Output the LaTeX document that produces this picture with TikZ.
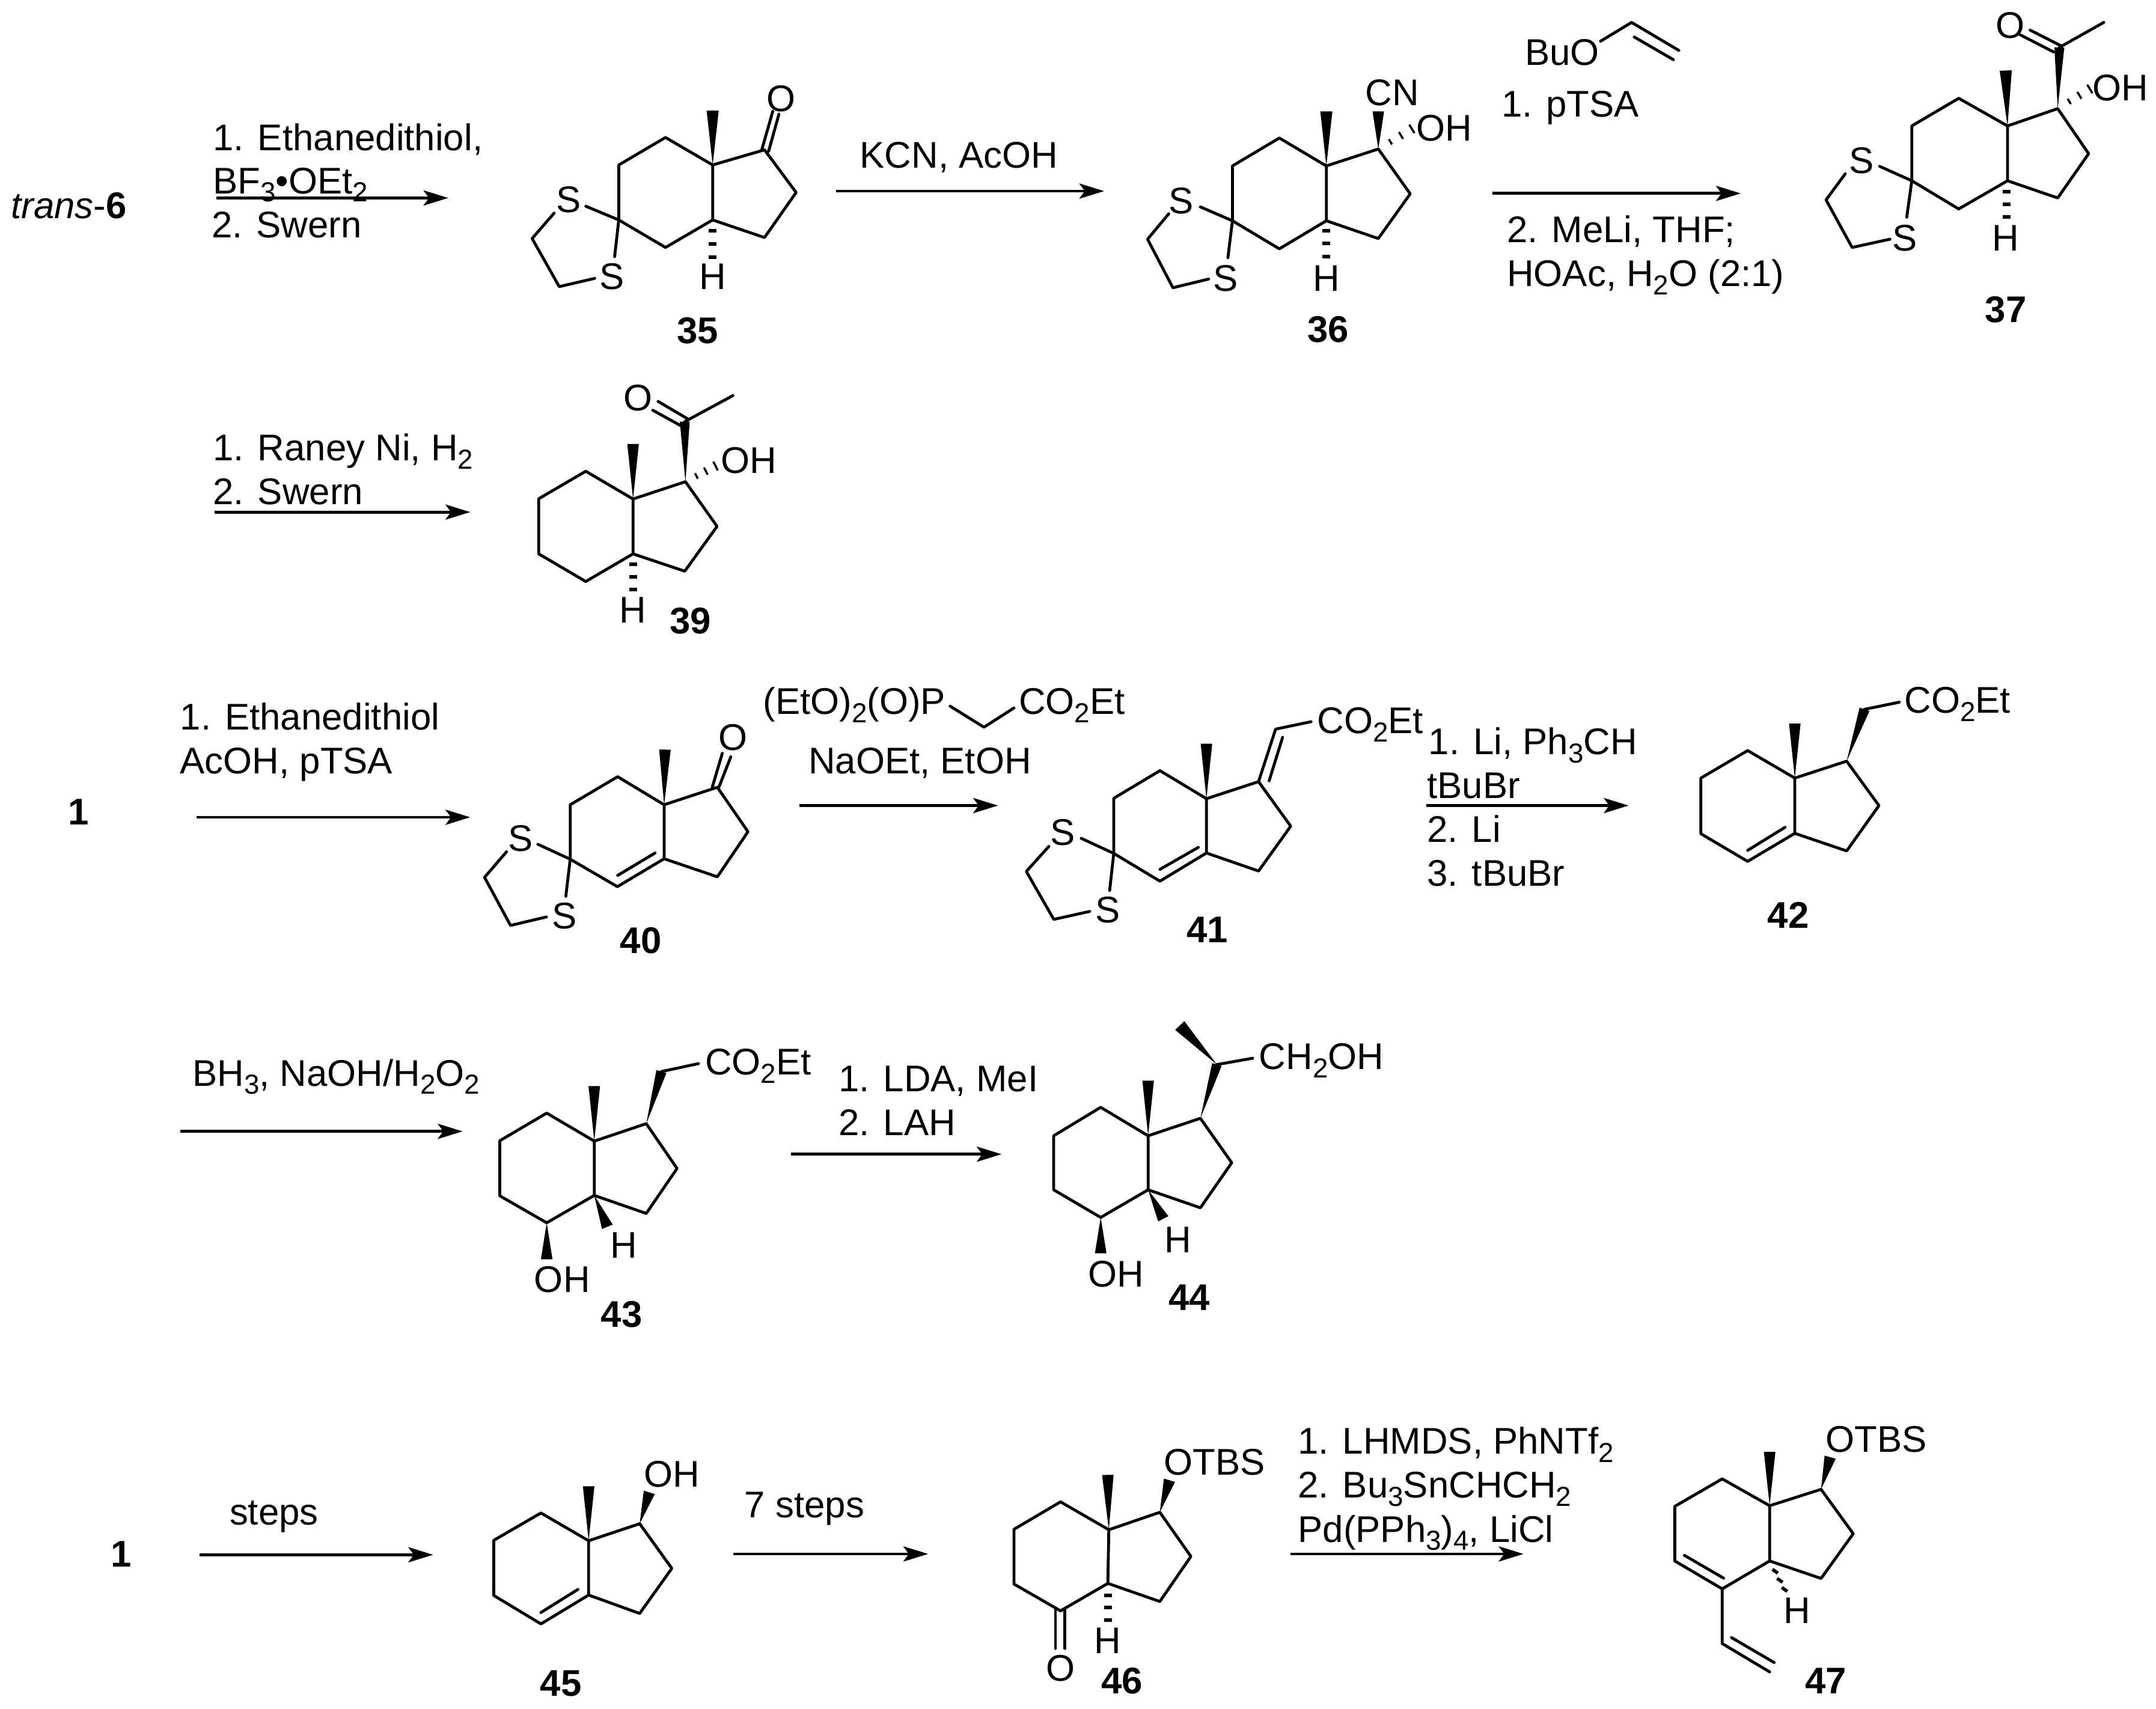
\documentclass[tikz,border=0pt]{standalone}
\usepackage{fontspec}
\setmainfont{Liberation Sans}
\usetikzlibrary{calc,arrows.meta}
\newcommand{\dn}[1]{\raisebox{-6pt}{\fontsize{20}{20}\selectfont #1}}
\newcommand{\Tw}[4]{\node[txt,anchor=base west] (#1) at (#2,#3) {#4};}
\newcommand{\Tc}[4]{\node[txt,anchor=base] (#1) at (#2,#3) {#4};}
\newcommand{\Bc}[4]{\node[txt,anchor=base,font=\fontsize{27}{32}\selectfont\bfseries] (#1) at (#2,#3) {#4};}
\newcommand{\rxn}[4]{\coordinate (#1s) at (#2,#4);\coordinate (#1e) at (#3,#4);\draw[rxnarrow] (#1s) -- (#1e);}
\newcommand{\wdg}[5]{\fill (#1,#2) -- ($(#3,#4)!#5pt!90:(#1,#2)$) -- ($(#3,#4)!#5pt!-90:(#1,#2)$) -- cycle;}
\newcommand{\hdot}[2]{\fill (#1-2.8,#2-1.3) rectangle (#1+2.8,#2+1.3);}
\newcommand{\hsh}[4]{\foreach \t/\l in {.3/2.2,.62/2.9,.95/3.6}{\draw[line width=1.5pt] ($(#1,#2)!\t!(#3,#4)!\l pt!90:(#3,#4)$) -- ($(#1,#2)!\t!(#3,#4)!\l pt!-90:(#3,#4)$);}}
\tikzset{
  txt/.style={inner sep=0pt,outer sep=0pt,font=\fontsize{27}{32}\selectfont},
  bond/.style={line width=2.1pt,line join=round,line cap=round},
  rxnarrow/.style={line width=2.1pt,-{Stealth[length=18pt,width=11pt,inset=4pt]},shorten >=0pt},
}
\begin{document}
\begin{tikzpicture}[x=1pt,y=-1pt]
\fill[white] (0,0) rectangle (1568,1242.8);
\useasboundingbox (0,0) rectangle (1568,1242.8);

% ---------- row 1
\node[txt,anchor=base west] (trans) at (8,159) {\textit{trans}-\textbf{6}};
\Tw{r1a}{155}{109.4}{1. Ethanedithiol,}
\Tw{r1b}{155}{140.8}{BF\dn{3}•OEt\dn{2}}
\Tw{r1c}{154}{172.7}{2. Swern}
\rxn{a1}{157.3}{326}{144}
% 35
\draw[bond] (518.3,120) -- (484,100) -- (450,120) -- (450,160) -- (484,180) -- (518.3,160) -- cycle;
\draw[bond] (518.3,120) -- (556,109) -- (579,140) -- (556,172.8) -- (518.3,160);
\draw[bond] (554,109) -- (562,81);
\draw[bond] (559,110) -- (566.5,83);
\wdg{518.3}{120}{518.3}{80.5}{4.4}
\Tc{o35}{568}{81}{O}
\Tc{s35a}{413.7}{154.5}{S}
\Tc{s35b}{445}{210.5}{S}
\Tc{h35}{518.3}{210.5}{H}
\draw[bond] (426,150) -- (450,160) -- (447,186.7);
\draw[bond] (403,155) -- (387,173.5) -- (406.7,208.5) -- (432.5,202.5);
\hdot{518.3}{168}\hdot{518.3}{177.5}\hdot{518.3}{187}
\Bc{c35}{507.5}{250}{35}

\Tw{r2a}{625.4}{122}{KCN, AcOH}
\rxn{a2}{608}{803}{139}
% 36
\draw[bond] (964.6,120.7) -- (930.4,100.4) -- (896.3,120.7) -- (896.3,160.6) -- (930.4,181) -- (964.6,160.6) -- cycle;
\draw[bond] (964.6,120.7) -- (1002.4,108.4) -- (1025.6,141) -- (1002.4,173.5) -- (964.6,160.6);
\wdg{964.6}{120.7}{964.6}{81}{4.4}
\wdg{1002.4}{108.4}{1002.4}{81}{4.2}
\hsh{1004}{107.5}{1028}{93}
\Tw{cn36}{993}{76.5}{CN}
\Tw{oh36}{1030}{102.6}{OH}
\Tc{s36a}{859}{155.5}{S}
\Tc{s36b}{891.4}{211.8}{S}
\Tc{h36}{964.6}{211.8}{H}
\draw[bond] (873,150.5) -- (896.3,160.6) -- (893,187.5);
\draw[bond] (850,155.5) -- (834.6,174) -- (853,209.3) -- (879,203);
\hdot{964.6}{168}\hdot{964.6}{177}\hdot{964.6}{186.6}
\Bc{c36}{966}{249}{36}

\Tw{bu}{1109}{47.4}{BuO}
\draw[bond] (1164,30) -- (1186.6,16.3) -- (1221,36.7);
\draw[bond] (1188.5,26.9) -- (1217,43.4);
\Tw{r3a}{1092}{85}{1. pTSA}
\rxn{a3}{1085.4}{1266}{140.7}
\Tw{r3b}{1096}{176.5}{2. MeLi, THF;}
\Tw{r3c}{1096}{208.5}{HOAc, H\dn{2}O (2:1)}
% 37
\draw[bond] (1460,91.6) -- (1424.5,71.5) -- (1390.4,91.6) -- (1390.4,131.5) -- (1424.5,152) -- (1460,131.5) -- cycle;
\draw[bond] (1460,91.6) -- (1496.5,79) -- (1519,111.8) -- (1496.5,144) -- (1460,131.5);
\wdg{1460}{91.6}{1458.7}{51.3}{4.4}
\wdg{1496.5}{79}{1497.7}{34.5}{3.6}
\draw[bond] (1497.7,34.5) -- (1530,16.3);
\draw[bond] (1476.4,21.9) -- (1499.5,33.6);
\draw[bond] (1469,25.2) -- (1493.5,37.8);
\hsh{1498}{78}{1521}{64}
\Tc{o37}{1462}{27.7}{O}
\Tw{oh37}{1522}{73}{OH}
\Tc{s37a}{1353.8}{126}{S}
\Tc{s37b}{1385.5}{182.4}{S}
\Tc{h37}{1458.7}{182.4}{H}
\draw[bond] (1367,121) -- (1390.4,131.5) -- (1386.7,158);
\draw[bond] (1342,126.4) -- (1328,145.4) -- (1347,180) -- (1374.5,174);
\hdot{1459.5}{139.5}\hdot{1459.5}{148.8}\hdot{1459.5}{158}
\Bc{c37}{1458.7}{234.5}{37}

% ---------- row 2
\Tw{r4a}{155}{335}{1. Raney Ni, H\dn{2}}
\Tw{r4b}{155}{367}{2. Swern}
\rxn{a4}{156}{342}{372.5}
% 39
\draw[bond] (460.4,363) -- (426,342.8) -- (391.8,362.8) -- (391.8,402.9) -- (426,423) -- (460.4,402.9) -- cycle;
\draw[bond] (460.4,363) -- (498.5,350.4) -- (521.5,382.9) -- (498,415.5) -- (460.4,402.9);
\wdg{460.4}{363}{460.4}{323}{4.2}
\wdg{498.5}{350.4}{498}{306.7}{3.6}
\draw[bond] (498,306.7) -- (533,287.8);
\draw[bond] (478.6,292) -- (501,305.2);
\draw[bond] (474.7,298.4) -- (495,309.6);
\hsh{500}{349.5}{521.5}{338.5}
\Tc{o39}{464}{298.7}{O}
\Tw{oh39}{524.4}{344.3}{OH}
\Tc{h39}{460.4}{453}{H}
\hdot{460.4}{410.6}\hdot{460.4}{419.6}\hdot{460.4}{428.8}
\Bc{c39}{502}{461}{39}

% ---------- row 3
\Bc{one1}{57}{600}{1}
\Tw{r5a}{131}{531}{1. Ethanedithiol}
\Tw{r5b}{131}{563}{AcOH, pTSA}
\rxn{a5}{143}{342}{594.5}
% 40
\draw[bond] (483,585.4) -- (449.2,565) -- (414.7,585.4) -- (414.7,625) -- (449,645) -- (483,624.7) -- cycle;
\draw[bond] (449.2,636.8) -- (476.4,620.5);
\draw[bond] (483,585.4) -- (521.7,572.7) -- (544,605) -- (521.7,637.8) -- (483,624.7);
\wdg{483}{585.4}{483.6}{545.3}{4.2}
\draw[bond] (518,572.7) -- (525.3,548);
\draw[bond] (522.8,572.7) -- (531.5,550.5);
\Tc{o40}{533.3}{545.7}{O}
\Tc{s40a}{378.5}{619.3}{S}
\Tc{s40b}{410.4}{675.4}{S}
\draw[bond] (391.2,614.2) -- (414.7,625) -- (411.5,652);
\draw[bond] (368.4,619.6) -- (352.4,638.2) -- (371.3,673.2) -- (397.4,667);
\Bc{c40}{466}{693.6}{40}

\Tw{r6a}{555}{519.5}{(EtO)\dn{2}(O)P}
\Tw{r6b}{741}{519.5}{CO\dn{2}Et}
\draw[bond] (691,513.7) -- (715.6,529) -- (737.4,515);
\Tw{r6c}{588}{563}{NaOEt, EtOH}
\rxn{a6}{581.5}{725.8}{586}
% 41
\draw[bond] (877.4,581) -- (843.6,560.6) -- (810,580.7) -- (810,620.8) -- (843.6,641) -- (877.4,620.5) -- cycle;
\draw[bond] (843.6,632.4) -- (871.5,616.4);
\draw[bond] (877.4,581) -- (915.3,568.6) -- (938.7,601) -- (915.3,633.6) -- (877.4,620.5);
\wdg{877.4}{581}{877.4}{541}{4.2}
\draw[bond] (915.3,568.6) -- (927.7,530.4) -- (953.5,525);
\draw[bond] (923,568) -- (932.8,536.3);
\Tw{co41}{958}{533.6}{CO\dn{2}Et}
\Tc{s41a}{773}{615}{S}
\Tc{s41b}{805.5}{671}{S}
\draw[bond] (786.3,609.8) -- (810,620.8) -- (807,647.7);
\draw[bond] (762.8,615.7) -- (746.4,633.9) -- (766.4,668.8) -- (792.5,663);
\Bc{c41}{878}{685.6}{41}

\Tw{r7a}{1039}{549}{1. Li, Ph\dn{3}CH}
\Tw{r7b}{1038}{580.7}{tBuBr}
\Tw{r7c}{1038}{612.5}{2. Li}
\Tw{r7d}{1038}{644.5}{3. tBuBr}
\rxn{a7}{1037.3}{1184.4}{586}
% 42
\draw[bond] (1305.3,566) -- (1271,546) -- (1237,566) -- (1237,606.5) -- (1271,626.6) -- (1305.3,606.2) -- cycle;
\draw[bond] (1271,618.6) -- (1298.2,601.8);
\draw[bond] (1305.3,566) -- (1343,553.7) -- (1366.5,586) -- (1343,619) -- (1305.3,606.2);
\wdg{1305.3}{566}{1305.3}{526.3}{4.2}
\wdg{1343}{553.7}{1356}{516}{3.8}
\draw[bond] (1356,516) -- (1381.3,510.8);
\Tw{co42}{1385}{518.8}{CO\dn{2}Et}
\Bc{c42}{1300.6}{675}{42}

% ---------- row 4
\Tw{r8a}{140}{790}{BH\dn{3}, NaOH/H\dn{2}O\dn{2}}
\rxn{a8}{131}{336.4}{823}
% 43
\draw[bond] (432.2,830.1) -- (397.6,809.7) -- (363.5,829.8) -- (363.5,869.9) -- (397.6,889.5) -- (432.2,869.6) -- cycle;
\draw[bond] (432.2,830.1) -- (470,817.4) -- (492.4,850) -- (470,882.7) -- (432.2,869.6);
\wdg{432.2}{830.1}{432.2}{790}{4.2}
\wdg{470}{817.4}{481}{779.5}{3.8}
\draw[bond] (481,779.5) -- (508,773.7);
\Tw{co43}{512.8}{782}{CO\dn{2}Et}
\wdg{397.6}{889.5}{397.6}{916}{4.2}
\wdg{432.2}{869.6}{441.7}{892.4}{4.2}
\Tw{oh43}{388.6}{940}{OH}
\Tw{h43}{444}{915}{H}
\Bc{c43}{452}{965.3}{43}

\Tw{r9a}{610}{794}{1. LDA, MeI}
\Tw{r9b}{610}{826}{2. LAH}
\rxn{a9}{575.3}{728.4}{839.6}
% 44
\draw[bond] (835,826.2) -- (800.5,805.5) -- (766.3,826.2) -- (766.3,865.5) -- (800.5,885.6) -- (835,865.5) -- cycle;
\draw[bond] (835,826.2) -- (873,813.5) -- (895.8,845.8) -- (873,878.6) -- (835,865.5);
\wdg{835}{826.2}{835}{786.1}{4.2}
\wdg{873}{813.5}{885}{774.4}{3.6}
\wdg{885}{774.4}{858}{746}{4.6}
\draw[bond] (885,774.4) -- (911,769.8);
\Tw{ch44}{915.7}{778}{CH\dn{2}OH}
\wdg{800.5}{885.6}{800.5}{911.7}{4.2}
\wdg{835}{865.5}{846}{886.6}{4.2}
\Tw{oh44}{791.5}{936}{OH}
\Tw{h44}{847}{911}{H}
\Bc{c44}{865}{953.2}{44}

% ---------- row 5
\Bc{one2}{88}{1140}{1}
\Tw{r10}{167}{1109}{steps}
\rxn{a10}{145}{315}{1131}
% 45
\draw[bond] (428.1,1120.8) -- (393.4,1100.6) -- (359.1,1120.5) -- (359.1,1160.6) -- (393.4,1181.3) -- (428.1,1160.3) -- cycle;
\draw[bond] (393.4,1173) -- (420.3,1156.2);
\draw[bond] (428.1,1120.8) -- (465.2,1108.4) -- (488.6,1140.9) -- (465.2,1173.7) -- (428.1,1160.3);
\wdg{428.1}{1120.8}{428.1}{1081.2}{4.2}
\wdg{465.2}{1108.4}{472.2}{1085.6}{4.2}
\Tw{oh45}{468.3}{1081.6}{OH}
\Bc{c45}{407.9}{1233.9}{45}

\Tw{r11}{541.6}{1103.8}{7 steps}
\rxn{a11}{533.4}{675}{1130.4}
% 46
\draw[bond] (806.4,1112.8) -- (771.3,1092.5) -- (737.4,1112.5) -- (737.4,1152.3) -- (771.3,1171.8) -- (805.7,1151.8) -- cycle;
\draw[bond] (806.4,1112.8) -- (843.5,1100.1) -- (866.1,1132.2) -- (843.5,1165) -- (805.7,1151.8);
\wdg{806.4}{1112.8}{805.7}{1072.9}{4.2}
\wdg{843.5}{1100.1}{850.5}{1076.8}{4.2}
\draw[bond] (767.6,1171) -- (767.6,1199.2);
\draw[bond] (774.5,1171) -- (774.5,1199.2);
\Tw{otbs46}{846.6}{1072.9}{OTBS}
\Tc{o46}{771.3}{1223}{O}
\Tc{h46}{805.7}{1202.8}{H}
\hdot{805.7}{1160.6}\hdot{805.7}{1169.3}\hdot{805.7}{1178.5}
\Bc{c46}{816}{1232}{46}

\Tw{r12a}{944}{1057.6}{1. LHMDS, PhNTf\dn{2}}
\Tw{r12b}{944}{1089.5}{2. Bu\dn{3}SnCHCH\dn{2}}
\Tw{r12c}{944}{1121.7}{Pd(PPh\dn{3})\dn{4}, LiCl}
\rxn{a12}{938.7}{1108}{1130.4}
% 47
\draw[bond] (1287,1095.3) -- (1252.5,1075.8) -- (1218,1095.8) -- (1218,1135.5) -- (1252.5,1155.8) -- (1287,1135.5) -- cycle;
\draw[bond] (1225,1131.4) -- (1253.5,1148);
\draw[bond] (1287,1095.3) -- (1324.4,1083.4) -- (1347.8,1115.7) -- (1324.4,1148.2) -- (1287,1135.5);
\wdg{1287}{1095.3}{1287}{1056.1}{4.2}
\wdg{1324.4}{1083.4}{1331}{1060}{4.2}
\draw[bond] (1252.5,1155.8) -- (1252.5,1195.6) -- (1287,1216.2);
\draw[bond] (1259.2,1191.2) -- (1290.3,1209.4);
\Tw{otbs47}{1327.8}{1056.1}{OTBS}
\Tc{h47}{1307}{1181}{H}
\draw[line width=2.4pt] (1289,1141.6) -- (1293,1144.4);
\draw[line width=2.4pt] (1292.4,1148.2) -- (1296.4,1151);
\draw[line width=2.4pt] (1295.8,1154.8) -- (1299.8,1157.6);
\Bc{c47}{1327.8}{1232}{47}
\end{tikzpicture}
\end{document}
